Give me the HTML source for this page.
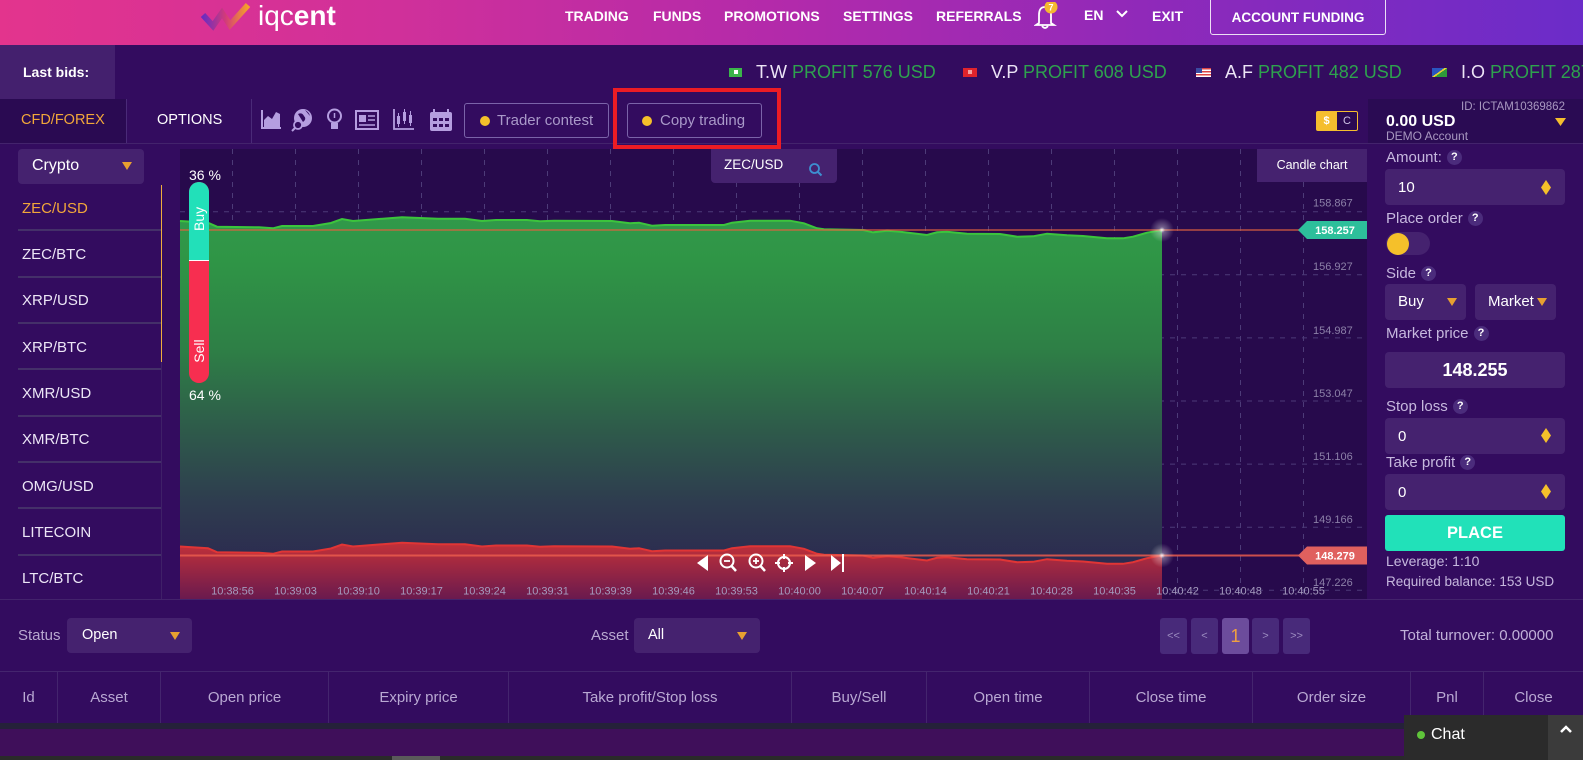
<!DOCTYPE html>
<html><head><meta charset="utf-8">
<style>
*{box-sizing:border-box;margin:0;padding:0}
body{width:1583px;height:760px;overflow:hidden;background:#330c5f;font-family:"Liberation Sans",sans-serif;position:relative;color:#fff}
.a{position:absolute}
.t{position:absolute;white-space:nowrap;line-height:1}
.nav{font-size:14px;font-weight:bold;top:9px;color:#fff}
.tk{font-size:18px;top:63px;color:#ece4f6}
.tk b{font-weight:normal;color:#2ea24e}
.li{font-size:15px;left:22px;color:#ece6f6}
.sep{position:absolute;left:18px;width:143px;height:2px;background:#443069}
.lbl{font-size:15px;color:#c6b8de;left:1386px}
.q{display:inline-block;width:15px;height:15px;border-radius:50%;background:#4b2c7c;color:#fff;font-size:11px;font-weight:bold;text-align:center;line-height:15px;margin-left:5px;vertical-align:middle}
.inp{position:absolute;background:#45226f;border-radius:4px}
.th{position:absolute;top:672px;height:51px;border-right:1px solid #44256e;color:#b9a9d3;font-size:15px;text-align:center;line-height:51px;white-space:nowrap}
.pg{position:absolute;top:618px;height:36px;background:#482a7a;border-radius:3px;color:#9c8cc0;font-size:11px;text-align:center;line-height:36px}
</style></head><body>

<!-- HEADER -->
<div class="a" style="left:0;top:0;width:1583px;height:45px;background:linear-gradient(90deg,#e3348d 0%,#d0309a 25%,#b22aab 50%,#9029b9 72%,#6b2cc9 100%)"></div>
<svg class="a" style="left:198px;top:0" width="60" height="32">
<defs><linearGradient id="lg" x1="0" x2="1" y1="0" y2="0"><stop offset="0" stop-color="#6a2cc0"/><stop offset="0.5" stop-color="#d33a7a"/><stop offset="1" stop-color="#f5a12a"/></linearGradient></defs>
<polyline points="5,15 15,26 24,13 32,25 50,5" fill="none" stroke="url(#lg)" stroke-width="6" stroke-linejoin="miter"/>
</svg>
<div class="t" style="left:258px;top:2px;font-size:28px;color:#fff">iqc<b>ent</b></div>
<div class="t nav" style="left:565px">TRADING</div>
<div class="t nav" style="left:653px">FUNDS</div>
<div class="t nav" style="left:724px">PROMOTIONS</div>
<div class="t nav" style="left:843px">SETTINGS</div>
<div class="t nav" style="left:936px">REFERRALS</div>
<svg class="a" style="left:1034px;top:2px" width="26" height="28">
<path d="M5,21 L5,13 Q5,5 11,5 Q17,5 17,13 L17,21 L20,23 L2,23 Z" fill="none" stroke="#fff" stroke-width="1.8"/>
<path d="M8,24 Q11,28 14,24" fill="none" stroke="#fff" stroke-width="1.8"/>
<circle cx="17" cy="5" r="6.5" fill="#f4b731"/>
<text x="17" y="8.5" font-size="9" font-weight="bold" fill="#fff" text-anchor="middle" font-family="Liberation Sans">7</text>
</svg>
<div class="t nav" style="left:1084px;top:8px">EN</div>
<svg class="a" style="left:1116px;top:10px" width="12" height="8"><polyline points="1,1 6,6 11,1" fill="none" stroke="#fff" stroke-width="2"/></svg>
<div class="t nav" style="left:1152px">EXIT</div>
<div class="a" style="left:1210px;top:-2px;width:176px;height:37px;border:1px solid rgba(255,255,255,0.85);border-radius:0 0 3px 3px;font-size:13.5px;font-weight:bold;text-align:center;line-height:37px">ACCOUNT FUNDING</div>

<!-- TICKER -->
<div class="a" style="left:0;top:45px;width:115px;height:54px;background:#44206e"></div>
<div class="t" style="left:23px;top:65px;font-size:14px;font-weight:bold">Last bids:</div>
<div class="a" style="left:729px;top:68px;width:13px;height:9px;background:#3bb54a"><div class="a" style="left:5px;top:2px;width:4px;height:4px;background:#fff"></div></div>
<div class="t tk" style="left:756px">T.W <b>PROFIT 576 USD</b></div>
<div class="a" style="left:963px;top:68px;width:14px;height:9px;background:#e0242c"><div class="a" style="left:5px;top:2px;width:4px;height:4px;background:#f4a0a0"></div></div>
<div class="t tk" style="left:991px">V.P <b>PROFIT 608 USD</b></div>
<div class="a" style="left:1196px;top:68px;width:15px;height:9px;background:repeating-linear-gradient(180deg,#d44 0 1.5px,#fff 1.5px 3px)"><div class="a" style="left:0;top:0;width:6px;height:5px;background:#3b4aa0"></div></div>
<div class="t tk" style="left:1225px">A.F <b>PROFIT 482 USD</b></div>
<div class="a" style="left:1432px;top:68px;width:15px;height:9px;background:linear-gradient(145deg,#2a56c0 45%,#e8d030 45% 55%,#2e9a3a 55%)"></div>
<div class="t tk" style="left:1461px">I.O <b>PROFIT 287 USD</b></div>

<!-- TOOLBAR -->
<div class="a" style="left:0;top:99px;width:126px;height:44px;background:#2a0a52"></div>
<div class="a" style="left:126px;top:99px;width:1px;height:44px;background:#4a2a78"></div>
<div class="a" style="left:251px;top:99px;width:1px;height:44px;background:#4a2a78"></div>
<div class="a" style="left:0;top:143px;width:1583px;height:1px;background:#43236c"></div>
<div class="t" style="left:21px;top:113px;font-size:14.5px;color:#f2a73a">CFD/FOREX</div>
<div class="t" style="left:157px;top:113px;font-size:14.5px;color:#fff">OPTIONS</div>
<svg class="a" style="left:255px;top:104px" width="205" height="32" fill="#b59ee0" stroke="#b59ee0">
<path d="M7,6 V24 H26" fill="none" stroke-width="2"/>
<polygon points="9,23 9,16 13,12 17,15 21,8 25,10 25,23" stroke="none"/>
<circle cx="48" cy="14" r="9" stroke="none"/>
<path d="M43,10 Q47,8 49,12 Q52,15 48,18 Z M50,6 Q54,8 55,12" fill="#330c5f" stroke="none"/>
<circle cx="43" cy="21" r="4" fill="#330c5f" stroke-width="1.8"/>
<line x1="40" y1="24" x2="37" y2="27" stroke-width="2"/>
<circle cx="79.5" cy="12" r="6.5" fill="none" stroke-width="2"/>
<rect x="76" y="19" width="7" height="6" stroke="none"/>
<line x1="79.5" y1="9" x2="79.5" y2="14" stroke-width="1.5"/>
<rect x="101" y="7" width="22" height="18" fill="none" stroke-width="2"/>
<rect x="104" y="11" width="7" height="7" stroke="none"/>
<line x1="113" y1="12" x2="120" y2="12" stroke-width="1.5"/>
<line x1="113" y1="16" x2="120" y2="16" stroke-width="1.5"/>
<line x1="104" y1="21" x2="120" y2="21" stroke-width="1.5"/>
<path d="M139,5 V25 H159" fill="none" stroke-width="1.8"/>
<rect x="142" y="12" width="3" height="8" stroke="none"/><line x1="143.5" y1="9" x2="143.5" y2="23" stroke-width="1"/>
<rect x="148" y="8" width="3" height="9" stroke="none"/><line x1="149.5" y1="5" x2="149.5" y2="20" stroke-width="1"/>
<rect x="154" y="11" width="3" height="8" stroke="none"/><line x1="155.5" y1="7" x2="155.5" y2="22" stroke-width="1"/>
<rect x="175" y="8" width="22" height="19" rx="2" stroke="none"/>
<line x1="179" y1="5" x2="179" y2="10" stroke-width="2"/><line x1="193" y1="5" x2="193" y2="10" stroke-width="2"/>
<g fill="#330c5f" stroke="none"><rect x="178" y="14" width="4" height="3"/><rect x="184" y="14" width="4" height="3"/><rect x="190" y="14" width="4" height="3"/><rect x="178" y="20" width="4" height="3"/><rect x="184" y="20" width="4" height="3"/><rect x="190" y="20" width="4" height="3"/></g>
</svg>
<div class="a" style="left:464px;top:103px;width:145px;height:35px;border:1px solid #7b63a9;border-radius:3px"></div>
<div class="a" style="left:480px;top:115.5px;width:10px;height:10px;border-radius:50%;background:#f5c02a"></div>
<div class="t" style="left:497px;top:113px;font-size:15px;color:#a999c9">Trader contest</div>
<div class="a" style="left:627px;top:103px;width:135px;height:35px;border:1px solid #7b63a9;border-radius:3px"></div>
<div class="a" style="left:642px;top:115.5px;width:10px;height:10px;border-radius:50%;background:#f5c02a"></div>
<div class="t" style="left:660px;top:113px;font-size:15px;color:#a999c9">Copy trading</div>
<div class="a" style="left:613px;top:88px;width:168px;height:61px;border:4px solid #ec1c24;z-index:5"></div>
<div class="a" style="left:1316px;top:111px;width:21px;height:20px;background:#f5be2e;border-radius:2px 0 0 2px;color:#fff;font-size:11px;font-weight:bold;text-align:center;line-height:20px">$</div>
<div class="a" style="left:1337px;top:111px;width:21px;height:20px;background:#2a0a52;border:1px solid #f5be2e;border-left:none;border-radius:0 2px 2px 0;color:#cfc3e6;font-size:11px;text-align:center;line-height:18px">C</div>
<div class="a" style="left:1368px;top:99px;width:215px;height:44px;background:#2a0b53"></div>
<div class="t" style="left:1461px;top:102px;font-size:11.5px;color:#a898c0">ID: ICTAM10369862</div>
<div class="t" style="left:1386px;top:114px;font-size:16px;font-weight:bold">0.00 USD</div>
<div class="t" style="left:1386px;top:130px;font-size:12px;color:#a898c0">DEMO Account</div>
<svg class="a" style="left:1555px;top:118px" width="12" height="9"><polygon points="0,0 11,0 5.5,8" fill="#f5be2e"/></svg>

<!-- SIDEBAR -->
<div class="inp" style="left:18px;top:149px;width:126px;height:35px"></div>
<div class="t" style="left:32px;top:158px;font-size:16px">Crypto</div>
<svg class="a" style="left:122px;top:162px" width="11" height="9"><polygon points="0,0 10,0 5,8" fill="#e8a030"/></svg>
<div class="a" style="left:161px;top:185px;width:1px;height:414px;background:#3f2068"></div>
<div class="a" style="left:160.5px;top:185px;width:1.5px;height:177px;background:#eeae3c"></div>
<div class="t li" style="top:200.5px;color:#f2a73a">ZEC/USD</div>
<div class="sep" style="top:229px"></div>
<div class="t li" style="top:246.5px">ZEC/BTC</div>
<div class="sep" style="top:276px"></div>
<div class="t li" style="top:292.5px">XRP/USD</div>
<div class="sep" style="top:322px"></div>
<div class="t li" style="top:339.5px">XRP/BTC</div>
<div class="sep" style="top:368px"></div>
<div class="t li" style="top:385.5px">XMR/USD</div>
<div class="sep" style="top:415px"></div>
<div class="t li" style="top:431.5px">XMR/BTC</div>
<div class="sep" style="top:461px"></div>
<div class="t li" style="top:478.5px">OMG/USD</div>
<div class="sep" style="top:507px"></div>
<div class="t li" style="top:524.5px">LITECOIN</div>
<div class="sep" style="top:554px"></div>
<div class="t li" style="top:570.5px">LTC/BTC</div>

<!-- CHART -->
<svg class="a" style="left:0;top:0" width="1583" height="760" font-family="Liberation Sans">
<defs>
<linearGradient id="gg" gradientUnits="userSpaceOnUse" x1="0" y1="215" x2="0" y2="599">
<stop offset="0" stop-color="#31994a"/><stop offset="0.12" stop-color="#2f9546"/><stop offset="0.35" stop-color="#2e7f46"/><stop offset="0.55" stop-color="#2e5c4a"/><stop offset="0.75" stop-color="#2e3c4f"/><stop offset="1" stop-color="#2b2050"/>
</linearGradient>
<linearGradient id="rg" gradientUnits="userSpaceOnUse" x1="0" y1="543" x2="0" y2="599">
<stop offset="0" stop-color="#c23139"/><stop offset="1" stop-color="#6a1a4e"/>
</linearGradient>
<radialGradient id="glow"><stop offset="0" stop-color="#fff" stop-opacity="0.9"/><stop offset="0.25" stop-color="#fff" stop-opacity="0.35"/><stop offset="1" stop-color="#fff" stop-opacity="0"/></radialGradient>
</defs>
<rect x="180" y="149" width="1187" height="450" fill="#270a4c"/>
<g stroke="#4d3b78" stroke-width="1" stroke-dasharray="5 6">
<line x1="232.5" y1="149" x2="232.5" y2="599"/><line x1="295.5" y1="149" x2="295.5" y2="599"/><line x1="358.5" y1="149" x2="358.5" y2="599"/><line x1="421.5" y1="149" x2="421.5" y2="599"/><line x1="484.5" y1="149" x2="484.5" y2="599"/><line x1="547.5" y1="149" x2="547.5" y2="599"/><line x1="610.5" y1="149" x2="610.5" y2="599"/><line x1="673.5" y1="149" x2="673.5" y2="599"/><line x1="736.5" y1="149" x2="736.5" y2="599"/><line x1="799.5" y1="149" x2="799.5" y2="599"/><line x1="862.5" y1="149" x2="862.5" y2="599"/><line x1="925.5" y1="149" x2="925.5" y2="599"/><line x1="988.5" y1="149" x2="988.5" y2="599"/><line x1="1051.5" y1="149" x2="1051.5" y2="599"/><line x1="1114.5" y1="149" x2="1114.5" y2="599"/><line x1="1177.5" y1="149" x2="1177.5" y2="599"/><line x1="1240.5" y1="149" x2="1240.5" y2="599"/><line x1="1303.5" y1="149" x2="1303.5" y2="599"/>
<line x1="180" y1="211.7" x2="1367" y2="211.7"/><line x1="180" y1="274.8" x2="1367" y2="274.8"/><line x1="180" y1="337.9" x2="1367" y2="337.9"/><line x1="180" y1="401" x2="1367" y2="401"/><line x1="180" y1="464.1" x2="1367" y2="464.1"/><line x1="180" y1="527.2" x2="1367" y2="527.2"/><line x1="180" y1="590.3" x2="1367" y2="590.3"/>
</g>
<polygon fill="url(#gg)" points="180,221 208,222.7 217,226.7 259,227.3 273,228.3 282,226 313,226 331,223 342,219 353,221 366,220 402,217.3 438,218.7 465,218.7 482,221 496,220 527,220 540,221.3 554,220.7 612,221 630,223.3 639,222.7 652,225.7 665,225 688,225 724,225 732,222.7 750,220.7 790,220.7 804,223.3 817,228.3 824,229.3 863,230 873,232.3 887,230.7 900,231.7 927,235 937,232.3 947,231.7 967,233.7 1000,234 1017,236.7 1033,236.3 1047,233.7 1067,235.3 1083,236 1107,238.3 1123,238.3 1133,236.7 1147,232.7 1162,230 1162,599 180,599"/>
<polygon fill="url(#rg)" points="180,546.5 208,548.2 217,552.2 259,552.8 273,553.8 282,551.5 313,551.5 331,548.5 342,544.5 353,546.5 366,545.5 402,542.8 438,544.2 465,544.2 482,546.5 496,545.5 527,545.5 540,546.8 554,546.2 612,546.5 630,548.8 639,548.2 652,551.2 665,550.5 688,550.5 724,550.5 732,548.2 750,546.2 790,546.2 804,548.8 817,553.8 824,554.8 863,555.5 873,557.8 887,556.2 900,557.2 927,560.5 937,557.8 947,557.2 967,559.2 1000,559.5 1017,562.2 1033,561.8 1047,559.2 1067,560.8 1083,561.5 1107,563.8 1123,563.8 1133,562.2 1147,558.2 1162,555.5 1162,599 180,599"/>
<polyline fill="none" stroke="#3cc43c" stroke-width="2" points="180,221 208,222.7 217,226.7 259,227.3 273,228.3 282,226 313,226 331,223 342,219 353,221 366,220 402,217.3 438,218.7 465,218.7 482,221 496,220 527,220 540,221.3 554,220.7 612,221 630,223.3 639,222.7 652,225.7 665,225 688,225 724,225 732,222.7 750,220.7 790,220.7 804,223.3 817,228.3 824,229.3 863,230 873,232.3 887,230.7 900,231.7 927,235 937,232.3 947,231.7 967,233.7 1000,234 1017,236.7 1033,236.3 1047,233.7 1067,235.3 1083,236 1107,238.3 1123,238.3 1133,236.7 1147,232.7 1162,230"/>
<polyline fill="none" stroke="#e03535" stroke-width="2" points="180,546.5 208,548.2 217,552.2 259,552.8 273,553.8 282,551.5 313,551.5 331,548.5 342,544.5 353,546.5 366,545.5 402,542.8 438,544.2 465,544.2 482,546.5 496,545.5 527,545.5 540,546.8 554,546.2 612,546.5 630,548.8 639,548.2 652,551.2 665,550.5 688,550.5 724,550.5 732,548.2 750,546.2 790,546.2 804,548.8 817,553.8 824,554.8 863,555.5 873,557.8 887,556.2 900,557.2 927,560.5 937,557.8 947,557.2 967,559.2 1000,559.5 1017,562.2 1033,561.8 1047,559.2 1067,560.8 1083,561.5 1107,563.8 1123,563.8 1133,562.2 1147,558.2 1162,555.5"/>
<line x1="180" y1="230" x2="1300" y2="230" stroke="#e06040" stroke-opacity="0.6" stroke-width="2"/>
<line x1="180" y1="555.5" x2="1300" y2="555.5" stroke="#ea5c4c" stroke-opacity="0.85" stroke-width="2"/>
<circle cx="1162" cy="230" r="12" fill="url(#glow)"/>
<circle cx="1162" cy="555.5" r="12" fill="url(#glow)"/>
<polygon points="1298,230 1307,221 1367,221 1367,239 1307,239" fill="#2dbf9b"/>
<text x="1335" y="233.9" font-size="11" font-weight="bold" fill="#fff" text-anchor="middle">158.257</text>
<polygon points="1298,555.5 1307,546.5 1367,546.5 1367,564.5 1307,564.5" fill="#e0605e"/>
<text x="1335" y="559.4" font-size="11" font-weight="bold" fill="#fff" text-anchor="middle">148.279</text>
<g font-size="11" fill="#8c80a8">
<text x="1313" y="206.6">158.867</text><text x="1313" y="269.9">156.927</text><text x="1313" y="333.9">154.987</text><text x="1313" y="396.9">153.047</text><text x="1313" y="459.9">151.106</text><text x="1313" y="522.9">149.166</text><text x="1313" y="585.9">147.226</text>
</g>
<g font-size="11" fill="#a59cbf" text-anchor="middle">
<text x="232.5" y="594.6">10:38:56</text><text x="295.5" y="594.6">10:39:03</text><text x="358.5" y="594.6">10:39:10</text><text x="421.5" y="594.6">10:39:17</text><text x="484.5" y="594.6">10:39:24</text><text x="547.5" y="594.6">10:39:31</text><text x="610.5" y="594.6">10:39:39</text><text x="673.5" y="594.6">10:39:46</text><text x="736.5" y="594.6">10:39:53</text><text x="799.5" y="594.6">10:40:00</text><text x="862.5" y="594.6">10:40:07</text><text x="925.5" y="594.6">10:40:14</text><text x="988.5" y="594.6">10:40:21</text><text x="1051.5" y="594.6">10:40:28</text><text x="1114.5" y="594.6">10:40:35</text><text x="1177.5" y="594.6">10:40:42</text><text x="1240.5" y="594.6">10:40:48</text><text x="1303.5" y="594.6">10:40:55</text>
</g>
<g fill="#fff" stroke="#fff">
<polygon points="697,563 708,555 708,571" stroke="none"/>
<circle cx="727" cy="561" r="6.5" fill="none" stroke-width="2"/><line x1="731.5" y1="566" x2="736" y2="571" stroke-width="2.5"/><line x1="724" y1="561" x2="730" y2="561" stroke-width="1.8"/>
<circle cx="756" cy="561" r="6.5" fill="none" stroke-width="2"/><line x1="760.5" y1="566" x2="765" y2="571" stroke-width="2.5"/><line x1="753" y1="561" x2="759" y2="561" stroke-width="1.8"/><line x1="756" y1="558" x2="756" y2="564" stroke-width="1.8"/>
<circle cx="784" cy="563" r="6" fill="none" stroke-width="2"/><line x1="784" y1="554" x2="784" y2="559" stroke-width="2"/><line x1="784" y1="567" x2="784" y2="572" stroke-width="2"/><line x1="775" y1="563" x2="780" y2="563" stroke-width="2"/><line x1="788" y1="563" x2="793" y2="563" stroke-width="2"/>
<polygon points="805,555 816,563 805,571" stroke="none"/>
<polygon points="831,555 841,563 831,571" stroke="none"/><line x1="843" y1="554" x2="843" y2="572" stroke-width="2"/>
</g>
</svg>

<!-- chart overlays -->
<div class="t" style="left:189px;top:168px;font-size:14px">36 %</div>
<div class="a" style="left:189px;top:182px;width:20px;height:201px;border-radius:10px;overflow:hidden;background:#f72e50">
<div class="a" style="left:0;top:0;width:20px;height:79px;background:#22e0b9;border-bottom:1px solid #fff"></div>
</div>
<div class="t" style="left:189px;top:213px;width:20px;height:16px;font-size:14px;text-align:center;transform:rotate(-90deg);line-height:16px">Buy</div>
<div class="t" style="left:183px;top:343px;width:32px;height:16px;font-size:14px;text-align:center;transform:rotate(-90deg);line-height:16px">Sell</div>
<div class="t" style="left:189px;top:388px;font-size:14px">64 %</div>
<div class="a" style="left:711px;top:149px;width:126px;height:34px;background:#45226f;border-radius:0 0 4px 4px"></div>
<div class="t" style="left:724px;top:158px;font-size:13.5px">ZEC/USD</div>
<svg class="a" style="left:808px;top:162px" width="16" height="16"><circle cx="6.5" cy="6.5" r="4.5" fill="none" stroke="#3d8fd0" stroke-width="1.8"/><line x1="10" y1="10" x2="13.5" y2="13.5" stroke="#3d8fd0" stroke-width="2"/></svg>
<div class="a" style="left:1257px;top:149px;width:110px;height:33px;background:#45226f;font-size:12.5px;text-align:center;line-height:33px">Candle chart</div>

<!-- RIGHT PANEL -->
<div class="t lbl" style="top:149.5px">Amount:<span class="q">?</span></div>
<div class="inp" style="left:1385px;top:169px;width:180px;height:36px"></div>
<div class="t" style="left:1398px;top:180px;font-size:15px">10</div>
<svg class="a" style="left:1541px;top:180px" width="10" height="15"><polygon points="5,0 10,7.5 5,15 0,7.5" fill="#f5c02a"/></svg>
<div class="t lbl" style="top:210.5px">Place order<span class="q">?</span></div>
<div class="a" style="left:1386px;top:232px;width:44px;height:23px;border-radius:12px;background:#45226f"></div>
<div class="a" style="left:1387px;top:232.5px;width:22px;height:22px;border-radius:50%;background:#f5c02a"></div>
<div class="t lbl" style="top:265.5px">Side<span class="q">?</span></div>
<div class="inp" style="left:1385px;top:284px;width:81px;height:36px"></div>
<div class="t" style="left:1398px;top:294px;font-size:15px">Buy</div>
<svg class="a" style="left:1447px;top:298px" width="11" height="9"><polygon points="0,0 10,0 5,8" fill="#e8a030"/></svg>
<div class="inp" style="left:1475px;top:284px;width:81px;height:36px"></div>
<div class="t" style="left:1488px;top:294px;font-size:15px">Market</div>
<svg class="a" style="left:1537px;top:298px" width="11" height="9"><polygon points="0,0 10,0 5,8" fill="#e8a030"/></svg>
<div class="t lbl" style="top:325.5px">Market price<span class="q">?</span></div>
<div class="inp" style="left:1385px;top:352px;width:180px;height:36px;font-size:18px;font-weight:bold;text-align:center;line-height:36px">148.255</div>
<div class="t lbl" style="top:398.5px">Stop loss<span class="q">?</span></div>
<div class="inp" style="left:1385px;top:418px;width:180px;height:36px"></div>
<div class="t" style="left:1398px;top:429px;font-size:15px">0</div>
<svg class="a" style="left:1541px;top:428px" width="10" height="15"><polygon points="5,0 10,7.5 5,15 0,7.5" fill="#f5c02a"/></svg>
<div class="t lbl" style="top:454.5px">Take profit<span class="q">?</span></div>
<div class="inp" style="left:1385px;top:474px;width:180px;height:36px"></div>
<div class="t" style="left:1398px;top:485px;font-size:15px">0</div>
<svg class="a" style="left:1541px;top:484px" width="10" height="15"><polygon points="5,0 10,7.5 5,15 0,7.5" fill="#f5c02a"/></svg>
<div class="a" style="left:1385px;top:515px;width:180px;height:36px;background:#21e1b9;border-radius:3px;font-size:16.5px;font-weight:bold;text-align:center;line-height:36px">PLACE</div>
<div class="t lbl" style="top:554px;font-size:14px">Leverage: 1:10</div>
<div class="t lbl" style="top:575px;font-size:13.5px">Required balance: 153 USD</div>

<!-- FILTER ROW -->
<div class="a" style="left:0;top:599px;width:1583px;height:1px;background:#43236c"></div>
<div class="t" style="left:18px;top:628px;font-size:15px;color:#b8a8d0">Status</div>
<div class="inp" style="left:67px;top:618px;width:125px;height:35px"></div>
<div class="t" style="left:82px;top:628px;font-size:14.5px">Open</div>
<svg class="a" style="left:170px;top:632px" width="11" height="9"><polygon points="0,0 10,0 5,8" fill="#e8a030"/></svg>
<div class="t" style="left:591px;top:628px;font-size:15px;color:#b8a8d0">Asset</div>
<div class="inp" style="left:634px;top:618px;width:126px;height:35px"></div>
<div class="t" style="left:648px;top:628px;font-size:14.5px">All</div>
<svg class="a" style="left:737px;top:632px" width="11" height="9"><polygon points="0,0 10,0 5,8" fill="#e8a030"/></svg>
<div class="pg" style="left:1160px;width:27px">&lt;&lt;</div>
<div class="pg" style="left:1191px;width:27px">&lt;</div>
<div class="pg" style="left:1222px;width:27px;background:#6c4c9c;color:#f0a040;font-size:18px">1</div>
<div class="pg" style="left:1252px;width:27px">&gt;</div>
<div class="pg" style="left:1283px;width:27px">&gt;&gt;</div>
<div class="t" style="left:1400px;top:628px;font-size:15px;color:#c0b0d8">Total turnover: 0.00000</div>

<!-- TABLE HEADER -->
<div class="a" style="left:0;top:671px;width:1583px;height:1px;background:#44256e"></div>
<div class="th" style="left:0;width:58px">Id</div>
<div class="th" style="left:58px;width:103px">Asset</div>
<div class="th" style="left:161px;width:168px">Open price</div>
<div class="th" style="left:329px;width:180px">Expiry price</div>
<div class="th" style="left:509px;width:283px">Take profit/Stop loss</div>
<div class="th" style="left:792px;width:135px">Buy/Sell</div>
<div class="th" style="left:927px;width:163px">Open time</div>
<div class="th" style="left:1090px;width:163px">Close time</div>
<div class="th" style="left:1253px;width:158px">Order size</div>
<div class="th" style="left:1411px;width:73px">Pnl</div>
<div class="th" style="left:1484px;width:99px;border-right:none">Close</div>

<!-- BOTTOM -->
<div class="a" style="left:0;top:723px;width:1583px;height:6px;background:#25213a"></div>
<div class="a" style="left:0;top:729px;width:1583px;height:27px;background:#3f0f5a"></div>
<div class="a" style="left:0;top:756px;width:1583px;height:4px;background:#2a2a2a"></div>
<div class="a" style="left:392px;top:756px;width:48px;height:4px;background:#5a5a5a"></div>

<!-- CHAT -->
<div class="a" style="left:1404px;top:715px;width:179px;height:45px;background:#2b2b2b"></div>
<div class="a" style="left:1548px;top:715px;width:35px;height:45px;background:#3b3b3b"></div>
<div class="a" style="left:1417px;top:731px;width:8px;height:8px;border-radius:50%;background:#5fc43a"></div>
<div class="t" style="left:1431px;top:727px;font-size:16px">Chat</div>
<svg class="a" style="left:1559px;top:724px" width="14" height="10"><polyline points="2,8 7,3 12,8" fill="none" stroke="#fff" stroke-width="2.5"/></svg>

</body></html>
